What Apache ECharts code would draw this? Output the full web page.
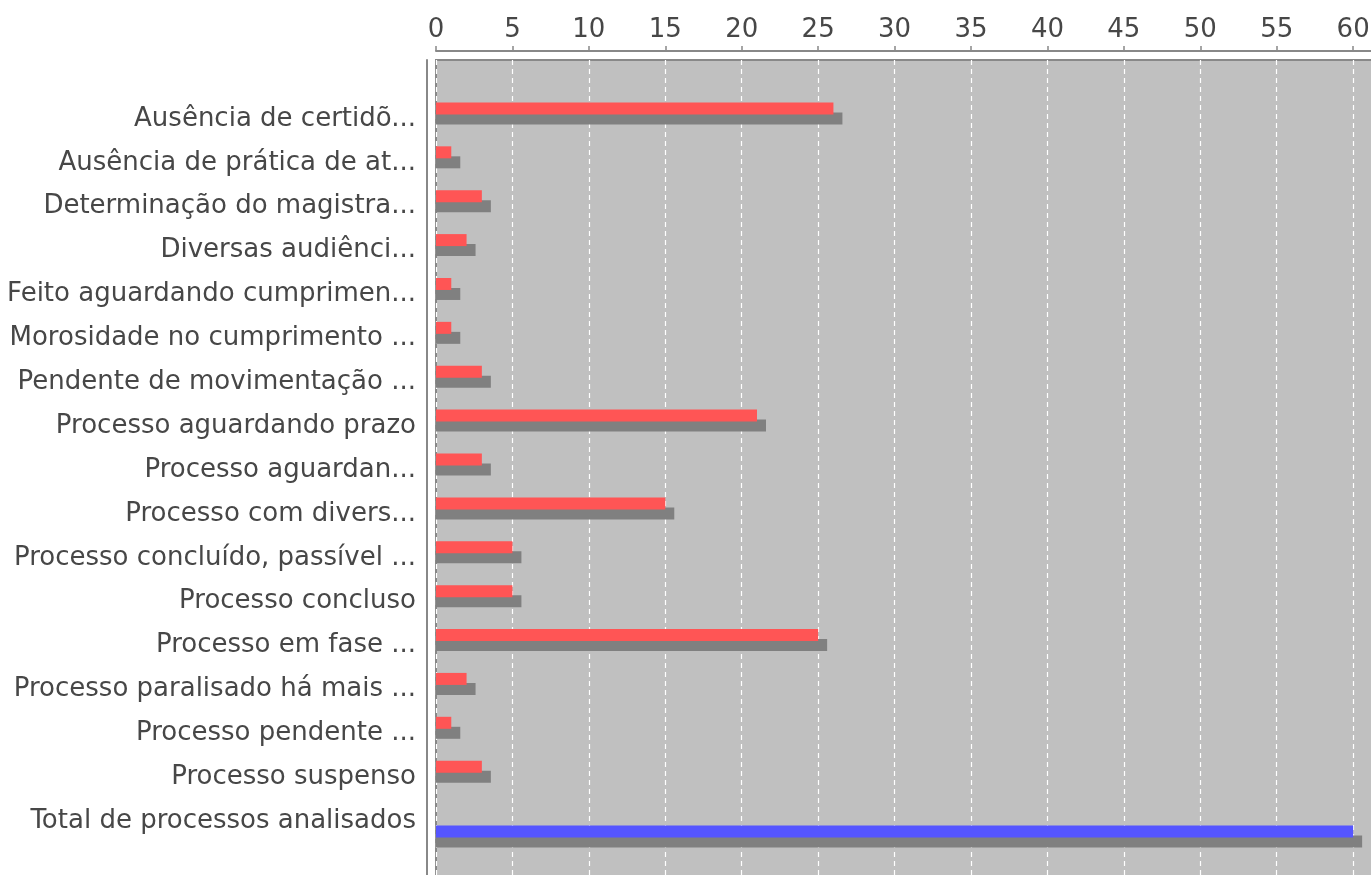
<!DOCTYPE html>
<html>
<head>
<meta charset="utf-8">
<script src="https://cdn.jsdelivr.net/npm/echarts@6/dist/echarts.min.js"></script>
<style>
html,body{margin:0;padding:0;background:#fff;}
#chart{width:1371px;height:875px;}
</style>
</head>
<body>
<div id="chart"></div>
<script>
const categories = [
  'Ausência de certidõ...',
  'Ausência de prática de at...',
  'Determinação do magistra...',
  'Diversas audiênci...',
  'Feito aguardando cumprimen...',
  'Morosidade no cumprimento ...',
  'Pendente de movimentação ...',
  'Processo aguardando prazo',
  'Processo aguardan...',
  'Processo com divers...',
  'Processo concluído, passível ...',
  'Processo concluso',
  'Processo em fase ...',
  'Processo paralisado há mais ...',
  'Processo pendente ...',
  'Processo suspenso',
  'Total de processos analisados'
];
const motivoValues = [26, 1, 3, 2, 1, 1, 3, 21, 3, 15, 5, 5, 25, 2, 1, 3, null];
const totalValues = [null, null, null, null, null, null, null, null, null, null, null, null, null, null, null, null, 60];
const xTicks = { min: 0, max: 63, interval: 5 };

const FONT = 'DejaVu Sans';
const BAR_H = 12, SHADOW_DX = 9, SHADOW_DY = 10;
const chart = echarts.init(document.getElementById('chart'), null, { renderer: 'canvas' });

function makeRender(color, slotOffset) {
  return function (params, api) {
    const v = api.value(0);
    if (v == null || isNaN(v)) return null;
    const c = api.value(1);
    const p0 = api.coord([0, c]);
    const p1 = api.coord([v, c]);
    const yTop = p0[1] + slotOffset - BAR_H / 2;
    const w = p1[0] - p0[0];
    return {
      type: 'group',
      children: [
        { type: 'rect', shape: { x: p0[0], y: yTop + SHADOW_DY, width: w + SHADOW_DX, height: BAR_H },
          style: { fill: '#808080' } },
        { type: 'rect', shape: { x: p0[0], y: yTop, width: w, height: BAR_H },
          style: { fill: color } }
      ]
    };
  };
}

const toData = arr => arr.map((v, i) => [v == null ? NaN : v, i]);

chart.setOption({
  animation: false,
  backgroundColor: '#ffffff',
  grid: [
    { left: 436, top: 60, right: -28, bottom: -20, outerBoundsMode: 'none', show: true,
      backgroundColor: '#c0c0c0', borderColor: '#888888', borderWidth: 2, containLabel: false },
    { left: 436, top: 97, right: -28, height: 746, outerBoundsMode: 'none', containLabel: false }
  ],
  xAxis: [
    {
      gridIndex: 0, type: 'value', position: 'top', offset: 9,
      min: xTicks.min, max: xTicks.max, interval: xTicks.interval,
      axisLine: { show: true, onZero: false, lineStyle: { color: '#888888', width: 2 } },
      axisTick: { show: true, length: 5, inside: false, lineStyle: { color: '#888888', width: 1.5 } },
      axisLabel: { show: true, color: '#474747', fontFamily: FONT, fontSize: 26, margin: 8,
        formatter: v => (v % 5 === 0 ? String(v) : '') },
      splitLine: { show: true, lineStyle: { color: '#ffffff', width: 1.2, type: [5, 4] } }
    },
    {
      gridIndex: 1, type: 'value', show: false,
      min: xTicks.min, max: xTicks.max, interval: xTicks.interval,
      splitLine: { show: false }
    }
  ],
  yAxis: [
    {
      gridIndex: 0, type: 'value', min: 0, max: 1, offset: 9,
      axisLine: { show: true, onZero: false, lineStyle: { color: '#888888', width: 2 } },
      axisTick: { show: false }, axisLabel: { show: false }, splitLine: { show: false }
    },
    {
      gridIndex: 1, type: 'category', data: categories, inverse: true,
      axisLine: { show: false }, axisTick: { show: false },
      axisLabel: { show: true, color: '#474747', fontFamily: FONT, fontSize: 26, margin: 20, interval: 0 },
      splitLine: { show: false }
    }
  ],
  series: [
    {
      type: 'custom', xAxisIndex: 1, yAxisIndex: 1, data: toData(motivoValues),
      encode: { x: 0, y: 1 }, renderItem: makeRender('#ff5555', -10.5), clip: false
    },
    {
      type: 'custom', xAxisIndex: 1, yAxisIndex: 1, data: toData(totalValues),
      encode: { x: 0, y: 1 }, renderItem: makeRender('#5555ff', 10.5), clip: false
    }
  ]
});
</script>
</body>
</html>
